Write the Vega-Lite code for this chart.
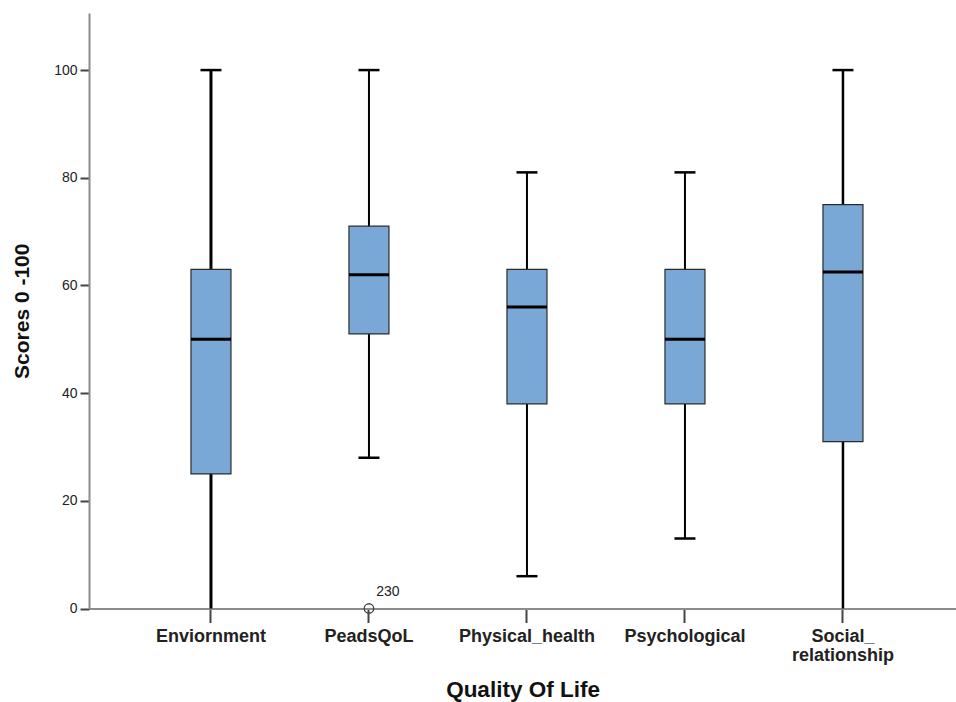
{
  "$schema": "https://vega.github.io/schema/vega-lite/v6.json",
  "width": 867,
  "height": 595.5,
  "autosize": {"type": "none"},
  "padding": {"left": 89, "top": 13, "right": 0, "bottom": 93.5},
  "background": "white",
  "config": {
    "view": {"stroke": null},
    "font": "Liberation Sans",
    "axis": {"grid": false, "domainColor": "#8c8c8c", "domainWidth": 2, "tickColor": "#444", "tickWidth": 2, "labelColor": "#222", "titleColor": "#111"}
  },
  "datasets": {
    "boxes": [
      {"group": "Enviornment", "lo": 0, "q1": 25, "median": 50, "q3": 63, "hi": 100, "w": 3},
      {"group": "PeadsQoL", "lo": 28, "q1": 51, "median": 62, "q3": 71, "hi": 100, "w": 2},
      {"group": "Physical_health", "lo": 6, "q1": 38, "median": 56, "q3": 63, "hi": 81, "w": 2},
      {"group": "Psychological", "lo": 13, "q1": 38, "median": 50, "q3": 63, "hi": 81, "w": 2},
      {"group": "Social_relationship", "lo": 0, "q1": 31, "median": 62.5, "q3": 75, "hi": 100, "w": 2.5}
    ],
    "outliers": [
      {"group": "PeadsQoL", "value": 0, "label": "230"}
    ]
  },
  "data": {"name": "boxes"},
  "encoding": {
    "x": {
      "field": "group", "type": "nominal", "sort": null,
      "scale": {"type": "band", "paddingInner": 0, "paddingOuter": 0.2437, "align": 0.558},
      "axis": {
        "title": "Quality Of Life", "titleFontSize": 22.5, "titleFontWeight": "bold", "titlePadding": 14,
        "labelAngle": 0, "labelFontSize": 18, "labelFontWeight": "bold", "labelPadding": 5, "tickSize": 14,
        "labelExpr": "datum.value == 'Social_relationship' ? ['Social_', 'relationship'] : datum.value",
        "labelLineHeight": 19
      }
    }
  },
  "layer": [
    {
      "mark": {"type": "rule", "color": "black"},
      "encoding": {
        "y": {"field": "lo", "type": "quantitative", "scale": {"domain": [0, 110.6], "nice": false, "zero": true},
          "axis": {"title": "Scores 0 -100", "titleFontSize": 21, "titleFontWeight": "bold", "titlePadding": 21,
            "values": [0, 20, 40, 60, 80, 100], "labelFontSize": 14, "tickSize": 9, "labelPadding": 3}},
        "y2": {"field": "hi"},
        "strokeWidth": {"field": "w", "type": "quantitative", "scale": null}
      }
    },
    {
      "mark": {"type": "bar", "size": 40, "fill": "#79a8d6", "stroke": "#2b2b2b", "strokeWidth": 1.2},
      "encoding": {
        "y": {"field": "q1", "type": "quantitative"},
        "y2": {"field": "q3"}
      }
    },
    {
      "mark": {"type": "tick", "size": 40, "thickness": 3, "color": "black", "opacity": 1},
      "encoding": {"y": {"field": "median", "type": "quantitative"}}
    },
    {
      "mark": {"type": "tick", "size": 21, "thickness": 2.5, "color": "black", "opacity": 1},
      "encoding": {"y": {"field": "hi", "type": "quantitative"}}
    },
    {
      "transform": [{"filter": "datum.lo > 0"}],
      "mark": {"type": "tick", "size": 21, "thickness": 2.5, "color": "black", "opacity": 1},
      "encoding": {"y": {"field": "lo", "type": "quantitative"}}
    },
    {
      "data": {"name": "outliers"},
      "mark": {"type": "point", "shape": "circle", "filled": false, "size": 90, "stroke": "#444", "strokeWidth": 1.3, "opacity": 1},
      "encoding": {"y": {"field": "value", "type": "quantitative"}}
    },
    {
      "data": {"name": "outliers"},
      "mark": {"type": "text", "dx": 19, "dy": -17, "fontSize": 14, "color": "#222"},
      "encoding": {"y": {"field": "value", "type": "quantitative"}, "text": {"field": "label"}}
    }
  ]
}
